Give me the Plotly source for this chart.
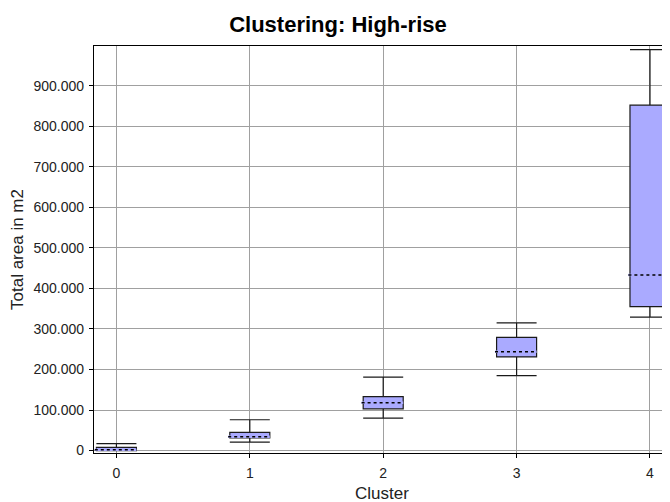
import plotly.graph_objects as go

clusters = [0, 1, 2, 3, 4]
tick_labels = ["0", "1", "2", "3", "4"]
lower_whisker = [0, 21000, 80000, 185000, 329000]
q1_values = [0, 31000, 103000, 231000, 355000]
median_values = [2000, 34000, 118000, 244000, 433000]
q3_values = [8000, 45000, 133000, 279000, 852000]
upper_whisker = [17000, 76000, 181000, 315000, 989000]

box_width = 0.30
fill_color = "#AAAAFF"
font_family = "Liberation Sans, Arial, sans-serif"
text_color = "#222222"

fig = go.Figure()
fig.add_trace(go.Box(
    x=clusters,
    q1=q1_values,
    median=median_values,
    q3=q3_values,
    lowerfence=lower_whisker,
    upperfence=upper_whisker,
    width=box_width,
    whiskerwidth=1,
    fillcolor=fill_color,
    line=dict(color="#1a1a1a", width=1.2),
    boxpoints=False,
    hoverinfo="skip",
    showlegend=False,
))

# dashed median lines (cover the solid median, then draw dashes)
mx, my = [], []
for c, m in zip(clusters, median_values):
    mx += [c - box_width / 2 - 0.012, c + box_width / 2, None]
    my += [m, m, None]
fig.add_trace(go.Scatter(x=mx, y=my, mode="lines",
                         line=dict(color=fill_color, width=2.5),
                         hoverinfo="skip", showlegend=False))
fig.add_trace(go.Scatter(x=mx, y=my, mode="lines",
                         line=dict(color="black", width=1.5, dash="3px,3px"),
                         hoverinfo="skip", showlegend=False))

fig.update_layout(
    template="none",
    width=670, height=502,
    margin=dict(l=86, r=8, t=38, b=56.5, pad=0),
    paper_bgcolor="white",
    plot_bgcolor="white",
    separators=",.",
    font=dict(family=font_family, size=14, color=text_color),
    title=dict(text="<b>Clustering: High-rise</b>", x=0.4925, xref="container",
               y=0.968, yref="container", yanchor="middle", xanchor="center",
               font=dict(family=font_family, size=22, color="black")),
    xaxis=dict(
        range=[-0.168, 4.15],
        tickmode="array", tickvals=clusters, ticktext=tick_labels,
        showgrid=True, gridcolor="#a0a0a0", gridwidth=1,
        showline=True, linecolor="black", linewidth=1.3, mirror=True,
        ticks="outside", ticklen=4, tickcolor="black", tickwidth=1,
        ticklabelstandoff=3,
        zeroline=False,
        title=dict(text="Cluster", standoff=7,
                   font=dict(size=17, color=text_color)),
        tickfont=dict(size=14, color=text_color),
        automargin=False,
    ),
    yaxis=dict(
        range=[-6000, 998000],
        tickmode="linear", tick0=0, dtick=100000,
        tickformat=",d",
        showgrid=True, gridcolor="#a0a0a0", gridwidth=1,
        showline=True, linecolor="black", linewidth=1.3, mirror=False,
        ticks="outside", ticklen=4, tickcolor="black", tickwidth=1,
        ticklabelstandoff=2,
        zeroline=False,
        title=dict(text="Total area in m2", standoff=13,
                   font=dict(size=17, color=text_color)),
        tickfont=dict(size=14, color=text_color),
        automargin=False,
    ),
)

fig.write_html("out.html")
